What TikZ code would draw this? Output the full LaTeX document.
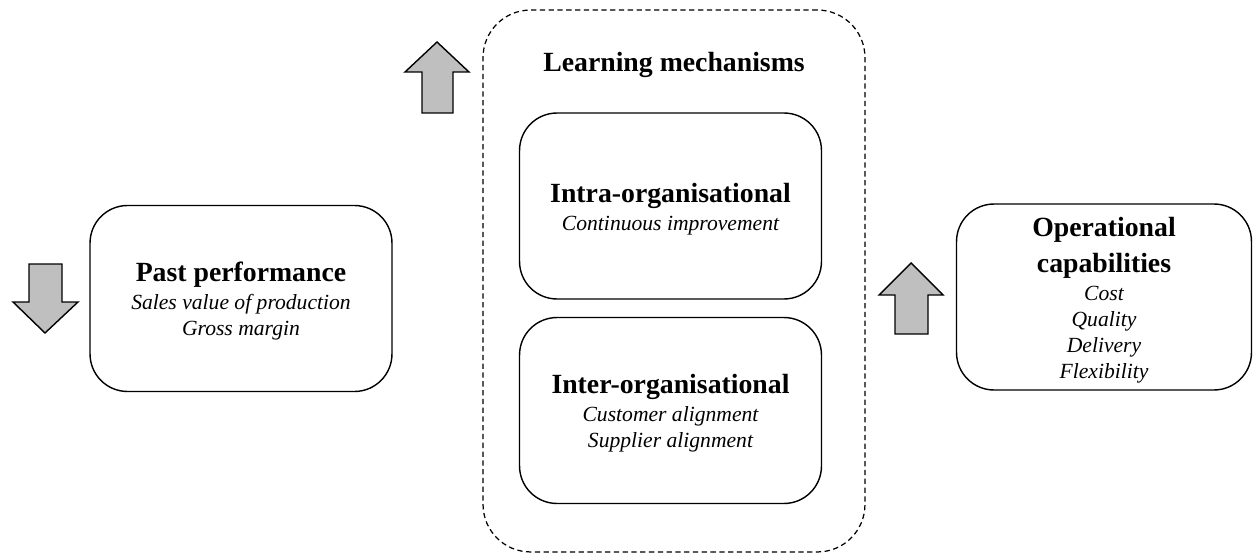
\documentclass[tikz,border=0pt]{standalone}
\usepackage{fontspec}
\setmainfont{Liberation Serif}
\usetikzlibrary{positioning}
\newcommand\headfont{\fontsize{15.8}{19}\selectfont\normalfont\bfseries}
\newcommand\itemfont{\fontsize{12.3}{14.8}\selectfont\normalfont\itshape}
\newcommand\headstrut{\rule{0pt}{14.3pt}}
\begin{document}
\begin{tikzpicture}[x=0.02cm,y=-0.02cm,
    box/.style={draw,line width=0.8pt,rounded corners=0.75cm,align=center,
      font=\itemfont,minimum width=6.04cm,minimum height=3.72cm,inner sep=0pt},
    dashbox/.style={draw,line width=0.7pt,dash pattern=on 3pt off 2pt,
      rounded corners=0.95cm,minimum width=7.64cm,minimum height=10.84cm},
    blockarrow/.style={draw,line width=0.8pt,fill=gray!50,line join=miter}]
    \useasboundingbox (0,0) rectangle (1254,554);

    \node[dashbox] (learning) at (674,281) {};
    \node[font=\headfont] (learntitle) at (674,65) {Learning mechanisms};

    \node[box] (intra) at (670.5,206) {\headstrut\headfont Intra-organisational\\[1pt]Continuous improvement};
    \node[box] (inter) at (670.5,410.5) {\headstrut\headfont Inter-organisational\\[1pt]Customer alignment\\Supplier alignment};

    \node[box] (past) at (241,298.5) {\headstrut\headfont Past performance\\[1pt]Sales value of production\\Gross margin};
    \node[box,minimum width=5.9cm] (ops) at (1104,297) {\headstrut\headfont Operational\\[6pt]\headfont capabilities\\[1pt]Cost\\Quality\\Delivery\\Flexibility};

    \draw[blockarrow] (437,42) -- (469,72) -- (453,72) -- (453,113) -- (422,113) -- (422,72) -- (405,72) -- cycle;
    \draw[blockarrow] (911,263) -- (943,295) -- (928,295) -- (928,334) -- (895,334) -- (895,295) -- (879,295) -- cycle;
    \draw[blockarrow] (45,333) -- (78,302) -- (62,302) -- (62,264) -- (29,264) -- (29,302) -- (13,302) -- cycle;
\end{tikzpicture}
\end{document}
